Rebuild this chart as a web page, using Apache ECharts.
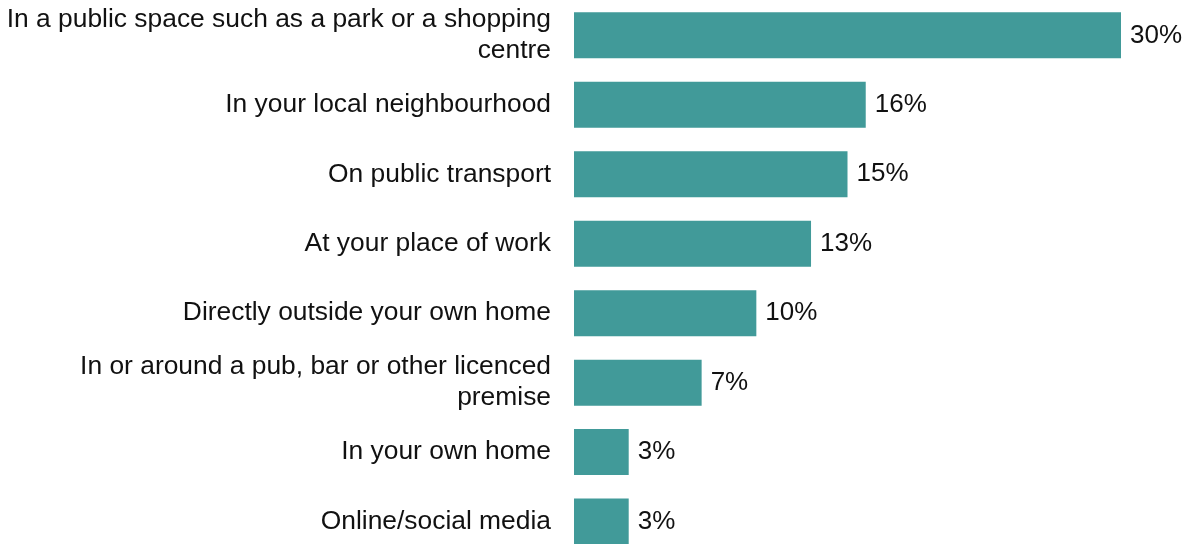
<!DOCTYPE html>
<html>
<head>
<meta charset="utf-8">
<script src="https://cdn.jsdelivr.net/npm/echarts@6/dist/echarts.min.js"></script>
<style>
  html, body { margin: 0; padding: 0; background: #ffffff; }
  #chart { width: 1187px; height: 544px; }
</style>
</head>
<body>
<div id="chart"></div>
<script>
// Where incidents took place (share of respondents, %)
const categories = [
  'In a public space such as a park or a shopping\ncentre',
  'In your local neighbourhood',
  'On public transport',
  'At your place of work',
  'Directly outside your own home',
  'In or around a pub, bar or other licenced\npremise',
  'In your own home',
  'Online/social media'
];
const values = [30, 16, 15, 13, 10, 7, 3, 3];

const FONT = "'Liberation Sans', Arial, sans-serif";
const TEXT_COLOR = '#111111';

const chart = echarts.init(document.getElementById('chart'), null, { renderer: 'canvas' });

chart.setOption({
  animation: false,
  backgroundColor: '#ffffff',
  grid: {
    left: 574, right: 66, top: 0.6, bottom: -12.3,
    containLabel: false,
    outerBoundsMode: 'none'
  },
  xAxis: {
    type: 'value',
    min: 0,
    max: 30,
    show: false
  },
  yAxis: {
    type: 'category',
    data: categories,
    inverse: true,
    axisLine: { show: false },
    axisTick: { show: false },
    splitLine: { show: false },
    axisLabel: {
      margin: 23,
      color: TEXT_COLOR,
      fontFamily: FONT,
      fontSize: 26.4,
      lineHeight: 31,
      align: 'right'
    }
  },
  series: [{
    type: 'bar',
    data: values,
    barWidth: 46,
    itemStyle: { color: '#419a99' },
    label: {
      show: true,
      position: 'right',
      distance: 9,
      formatter: p => p.value + '%',
      color: TEXT_COLOR,
      fontFamily: FONT,
      fontSize: 26
    }
  }]
});
</script>
</body>
</html>
